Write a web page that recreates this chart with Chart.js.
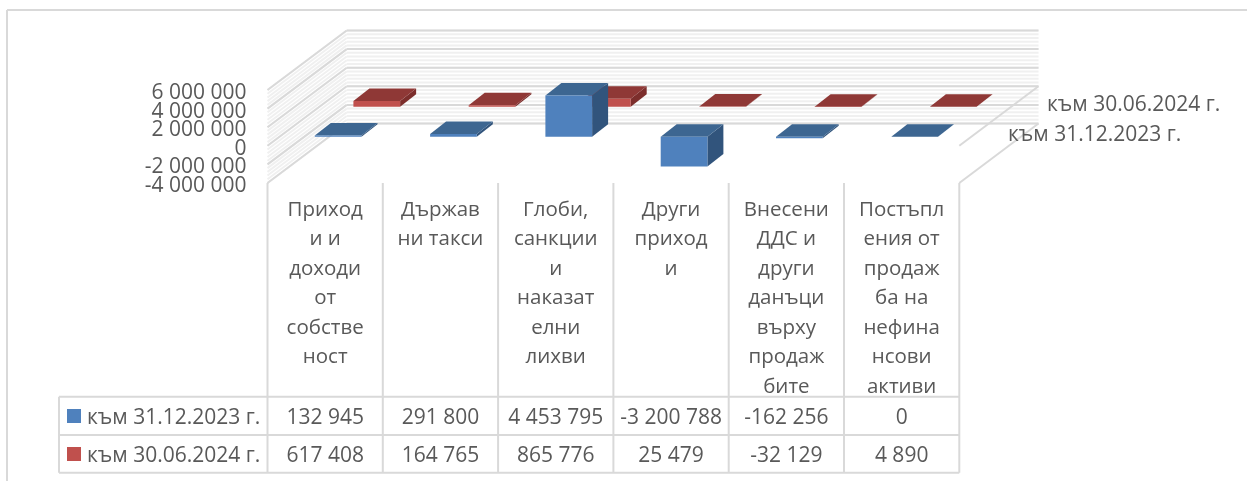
<!DOCTYPE html>
<html lang="bg">
<head>
<meta charset="utf-8">
<title>Приходи</title>
<script src="https://cdn.jsdelivr.net/npm/chart.js@4/dist/chart.umd.js"></script>
<style>
  body { margin: 0; background: #fff; }
  canvas { display: block; }
</style>
</head>
<body>
<canvas id="grafico" width="1247" height="481"></canvas>
<script>
// labels are already broken the way the source chart wraps them
const categorias = [
  ["Приход", "и и", "доходи", "от", "собстве", "ност"],
  ["Държав", "ни такси"],
  ["Глоби,", "санкции", "и", "наказат", "елни", "лихви"],
  ["Други", "приход", "и"],
  ["Внесени", "ДДС и", "други", "данъци", "върху", "продаж", "бите"],
  ["Постъпл", "ения от", "продаж", "ба на", "нефина", "нсови", "активи"],
];
const serie2023 = [132945, 291800, 4453795, -3200788, -162256, 0];
const serie2024 = [617408, 164765, 865776, 25479, -32129, 4890];
const nome2023 = "към 31.12.2023 г.";
const nome2024 = "към 30.06.2024 г.";

const FONTE = '"Open Sans", sans-serif';
const COR_TEXTO = "#595959";
const COR_GRADE = "#D9D9D9";
const COR_MENOR = "#F0F0F0";

// 3D look: how far the back wall and each series sit from the front plane
const FUNDO = { dx: 79.2, dy: -59.5 };
const PROFUNDIDADE = { dx: 16, dy: -12.5 };
const faces = [
  { dx: 13, dy: -9, topo: "#3D6691", lado: "#31547C" },
  { dx: 51.6, dy: -39, topo: "#8F3836", lado: "#7C2E2C" },
];

function formatar(v) {
  return String(v).replace(/\B(?=(\d{3})+(?!\d))/g, " ");
}

function linha(ctx, x1, y1, x2, y2) {
  ctx.beginPath();
  ctx.moveTo(x1, y1);
  ctx.lineTo(x2, y2);
  ctx.stroke();
}

function poligono(ctx, cor, pts) {
  ctx.fillStyle = cor;
  ctx.beginPath();
  pts.forEach((p, i) => (i ? ctx.lineTo(p[0], p[1]) : ctx.moveTo(p[0], p[1])));
  ctx.closePath();
  ctx.fill();
}

const paredes = {
  id: "paredes",
  // the value labels sit about 3px lower than the tick position in the source
  afterLayout(chart) {
    const y = chart.scales.y;
    if (y.rotuloMovido) return;
    const original = y.drawLabels.bind(y);
    y.drawLabels = (area) => {
      chart.ctx.save();
      chart.ctx.translate(0, 3);
      original(area);
      chart.ctx.restore();
    };
    y.rotuloMovido = true;
  },
  beforeDatasetsDraw(chart) {
    const { ctx, chartArea: a, scales } = chart;
    const y = scales.y;
    ctx.save();
    // minor lines first so the major ones stay on top
    ctx.lineWidth = 2;
    ctx.strokeStyle = COR_MENOR;
    for (let v = y.min; v <= y.max; v += 400000) {
      const py = y.getPixelForValue(v);
      linha(ctx, a.left, py, a.left + FUNDO.dx, py + FUNDO.dy);
      linha(ctx, a.left + FUNDO.dx, py + FUNDO.dy, a.right + FUNDO.dx, py + FUNDO.dy);
    }
    ctx.strokeStyle = COR_GRADE;
    y.ticks.forEach((t) => {
      const py = y.getPixelForValue(t.value);
      linha(ctx, a.left, py, a.left + FUNDO.dx, py + FUNDO.dy);
      linha(ctx, a.left + FUNDO.dx, py + FUNDO.dy, a.right + FUNDO.dx, py + FUNDO.dy);
    });
    // floor edges on the right side
    const zero = y.getPixelForValue(0);
    linha(ctx, a.right, zero, a.right + FUNDO.dx, zero + FUNDO.dy);
    linha(ctx, a.right, a.bottom, a.right + FUNDO.dx, a.bottom + FUNDO.dy);
    ctx.restore();
  },
  // the library draws the front face, here only the top and the side
  beforeDatasetDraw(chart, args) {
    const { ctx } = chart;
    const f = faces[args.index];
    ctx.save();
    ctx.translate(f.dx, f.dy);
    args.meta.data.forEach((b) => {
      const e = b.x - b.width / 2;
      const d = b.x + b.width / 2;
      const cima = Math.min(b.y, b.base);
      const baixo = Math.max(b.y, b.base);
      const p = PROFUNDIDADE;
      poligono(ctx, f.lado, [[d, cima], [d + p.dx, cima + p.dy], [d + p.dx, baixo + p.dy], [d, baixo]]);
      poligono(ctx, f.topo, [[e, cima], [e + p.dx, cima + p.dy], [d + p.dx, cima + p.dy], [d, cima]]);
    });
  },
  afterDatasetDraw(chart) {
    chart.ctx.restore();
  },
  afterDraw(chart) {
    const { ctx, chartArea: a } = chart;
    const passo = (a.right - a.left) / categorias.length;
    const linhasY = [396.7, 435, 472.7];
    const xTabela = 59;
    ctx.save();
    ctx.strokeStyle = COR_GRADE;
    ctx.lineWidth = 2;
    for (let i = 0; i <= categorias.length; i++) {
      linha(ctx, a.left + i * passo, a.bottom, a.left + i * passo, linhasY[2]);
    }
    linha(ctx, xTabela, linhasY[0], xTabela, linhasY[2]);
    linhasY.forEach((ly) => linha(ctx, xTabela, ly, a.right, ly));
    // outer frame: only top and left are visible
    linha(ctx, 7, 10, 1247, 10);
    linha(ctx, 7, 10, 7, 481);

    ctx.font = "21px " + FONTE;
    ctx.fillStyle = COR_TEXTO;
    ctx.textBaseline = "middle";
    ctx.textAlign = "center";
    const series = [serie2023, serie2024];
    series.forEach((s, n) => {
      s.forEach((v, i) => {
        ctx.fillText(formatar(v), a.left + (i + 0.5) * passo, 418 + n * 38);
      });
    });
    ctx.textAlign = "left";
    ctx.fillText(nome2023, 87, 418);
    ctx.fillText(nome2024, 87, 456);
    ctx.fillText(nome2024, 1047, 105);
    ctx.fillText(nome2023, 1008, 135);
    ctx.fillStyle = "#4F81BD";
    ctx.fillRect(67, 409, 14, 14);
    ctx.fillStyle = "#C0504D";
    ctx.fillRect(67, 447, 14, 14);
    ctx.restore();
  },
};

new Chart(document.getElementById("grafico"), {
  type: "bar",
  data: {
    labels: categorias,
    datasets: [
      { label: nome2023, data: serie2023, backgroundColor: "#4F81BD", clip: false },
      { label: nome2024, data: serie2024, backgroundColor: "#C0504D", clip: false },
    ],
  },
  plugins: [paredes],
  options: {
    responsive: false,
    animation: false,
    layout: { padding: { top: 90, right: 287.7, bottom: 0, left: 0 } },
    plugins: { legend: { display: false }, tooltip: { enabled: false } },
    grouped: false,
    barPercentage: 0.405,
    categoryPercentage: 1,
    scales: {
      x: {
        grid: { display: false, drawTicks: false },
        border: { display: false },
        afterFit: (s) => { s.height = 298; },
        ticks: {
          autoSkip: false,
          maxRotation: 0,
          padding: 12,
          color: COR_TEXTO,
          font: { family: FONTE, size: 20.5, lineHeight: "29.5px" },
        },
      },
      y: {
        min: -4000000,
        max: 6000000,
        grid: { display: false, drawTicks: false },
        border: { display: false },
        afterFit: (s) => { s.width = 267.5; },
        ticks: {
          autoSkip: false,
          stepSize: 2000000,
          padding: 21,
          color: COR_TEXTO,
          font: { family: FONTE, size: 21 },
          callback: (v) => formatar(v),
        },
      },
    },
  },
});
</script>
</body>
</html>
